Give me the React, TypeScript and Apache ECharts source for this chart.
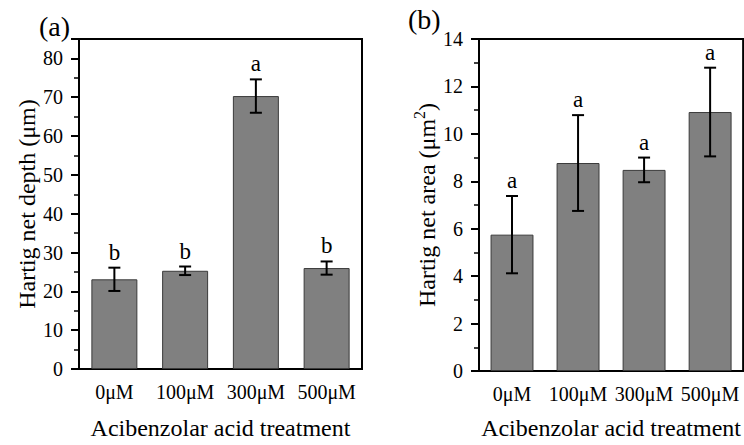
import React, { useEffect, useRef } from 'react';
import * as echarts from 'echarts';

const categories = ['0μM', '100μM', '300μM', '500μM'];
const depthMeans = [23.1, 25.3, 70.3, 26.0];
const depthErrors = [3.0, 1.1, 4.3, 1.7];
const depthLetters = ['b', 'b', 'a', 'b'];
const areaMeans = [5.75, 8.77, 8.48, 10.92];
const areaErrors = [1.63, 2.02, 0.52, 1.87];
const areaLetters = ['a', 'a', 'a', 'a'];

const FONT = '"Liberation Serif", "Times New Roman", serif';

function errRender(letters: string[]) {
  return (params: any, api: any) => {
    const i = api.value(0);
    const lo = api.value(1);
    const hi = api.value(2);
    const pHi = api.coord([i, hi]);
    const pLo = api.coord([i, lo]);
    const x = pHi[0];
    const hw = 6;
    const style = { stroke: '#000', lineWidth: 2 };
    return {
      type: 'group',
      children: [
        { type: 'line', shape: { x1: x, y1: pHi[1], x2: x, y2: pLo[1] }, style },
        { type: 'line', shape: { x1: x - hw, y1: pHi[1], x2: x + hw, y2: pHi[1] }, style },
        { type: 'line', shape: { x1: x - hw, y1: pLo[1], x2: x + hw, y2: pLo[1] }, style },
        {
          type: 'text',
          x,
          y: pHi[1] - 4,
          style: {
            text: letters[params.dataIndex],
            fontSize: 23,
            fontFamily: FONT,
            fill: '#000',
            align: 'center',
            verticalAlign: 'bottom',
          },
        },
      ],
    };
  };
}

function xAxes(gridIndex: number) {
  return [
    {
      type: 'category',
      gridIndex,
      data: categories,
      position: 'bottom',
      axisLine: { lineStyle: { color: '#000', width: 2 } },
      axisTick: { alignWithLabel: true, interval: 0, length: 7, lineStyle: { color: '#000', width: 2 } },
      axisLabel: { interval: 0, color: '#000', fontSize: 20, fontFamily: FONT, margin: 13 },
      name: 'Acibenzolar acid treatment',
      nameLocation: 'middle',
      nameGap: gridIndex === 0 ? 47 : 45,
      nameTextStyle: { color: '#000', fontSize: 24, fontFamily: FONT },
      splitLine: { show: false },
    },
    {
      type: 'category',
      gridIndex,
      data: categories,
      position: 'bottom',
      axisLine: { show: false },
      axisTick: { interval: 0, length: 4, lineStyle: { color: '#000', width: 1.5 } },
      axisLabel: { show: false },
      splitLine: { show: false },
    },
  ];
}

function yAxis(gridIndex: number, max: number, interval: number, name: string, nameGap: number) {
  return {
    type: 'value',
    gridIndex,
    min: 0,
    max,
    interval,
    name,
    nameLocation: 'middle',
    nameGap,
    nameTextStyle: {
      color: '#000',
      fontSize: 24,
      fontFamily: FONT,
      rich: {
        n: { color: '#000', fontSize: 24, fontFamily: FONT, verticalAlign: 'bottom', lineHeight: 28 },
        s: { color: '#000', fontSize: 16, fontFamily: FONT, verticalAlign: 'top', lineHeight: 16 },
      },
    },
    axisLine: { show: true, lineStyle: { color: '#000', width: 2 } },
    axisTick: { show: true, length: 8, lineStyle: { color: '#000', width: 2 } },
    minorTick: { show: true, splitNumber: 2, length: 5, lineStyle: { color: '#000', width: 1.5 } },
    axisLabel: { color: '#000', fontSize: 20, fontFamily: FONT, margin: 16, showMaxLabel: max % interval === 0 },
    splitLine: { show: false },
  };
}

export default function App() {
  const ref = useRef<HTMLDivElement>(null);
  useEffect(() => {
    if (!ref.current) return;
    const chart = echarts.init(ref.current, undefined, { renderer: 'svg' });
    const gridStyle = { show: true, borderColor: '#000', borderWidth: 2, backgroundColor: 'transparent', containLabel: false };
    chart.setOption({
      animation: false,
      backgroundColor: '#fff',
      grid: [
        { ...gridStyle, left: 79, right: 382, top: 39, bottom: 76 },
        { ...gridStyle, left: 479, right: -6, top: 39, bottom: 70 },
      ],
      xAxis: [...xAxes(0), ...xAxes(1)],
      yAxis: [
        yAxis(0, 85, 10, '{n|Hartig net depth (μm)}', 40),
        yAxis(1, 14, 2, '{n|Hartig net area (μm}{s|2}{n|)}', 40),
      ],
      graphic: [
        { type: 'text', left: 39, top: 12, style: { text: '(a)', fontSize: 28, fontFamily: FONT, fill: '#000' } },
        { type: 'text', left: 408, top: 5, style: { text: '(b)', fontSize: 28, fontFamily: FONT, fill: '#000' } },
      ],
      series: [
        {
          type: 'bar',
          xAxisIndex: 0,
          yAxisIndex: 0,
          data: depthMeans,
          barWidth: '65%',
          itemStyle: { color: '#808080', borderColor: '#3a3a3a', borderWidth: 1 },
        },
        {
          type: 'custom',
          xAxisIndex: 0,
          yAxisIndex: 0,
          renderItem: errRender(depthLetters),
          encode: { x: 0, y: [1, 2] },
          data: depthMeans.map((m, i) => [i, m - depthErrors[i], m + depthErrors[i]]),
          z: 5,
        },
        {
          type: 'bar',
          xAxisIndex: 2,
          yAxisIndex: 1,
          data: areaMeans,
          barWidth: '65%',
          itemStyle: { color: '#808080', borderColor: '#3a3a3a', borderWidth: 1 },
        },
        {
          type: 'custom',
          xAxisIndex: 2,
          yAxisIndex: 1,
          renderItem: errRender(areaLetters),
          encode: { x: 0, y: [1, 2] },
          data: areaMeans.map((m, i) => [i, m - areaErrors[i], m + areaErrors[i]]),
          z: 5,
        },
      ],
    });
    return () => chart.dispose();
  }, []);
  return <div ref={ref} style={{ position: 'absolute', left: 0, top: 0, width: 744, height: 445 }} />;
}
